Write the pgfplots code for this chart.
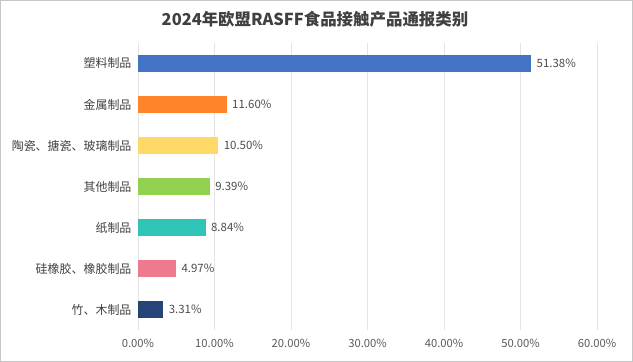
\documentclass[border=0pt]{standalone}
\usepackage{fontspec}
\setmainfont{Noto Sans CJK SC}
\usepackage{pgfplots}
\pgfplotsset{compat=1.18}
\definecolor{c1}{HTML}{4472C4}
\definecolor{c2}{HTML}{FF842A}
\definecolor{c3}{HTML}{FFD966}
\definecolor{c4}{HTML}{92D050}
\definecolor{c5}{HTML}{2EC4B6}
\definecolor{c6}{HTML}{EE7A8E}
\definecolor{c7}{HTML}{264478}
\definecolor{txt}{HTML}{595959}
\definecolor{grd}{HTML}{E4E4E4}
\begin{document}
\begin{tikzpicture}[x=1bp,y=1bp]
\draw[draw=gray!45,line width=0.8bp] (0.5,0.5) rectangle (632.5,361.5);
\node[font=\fontsize{16.5}{18}\selectfont\bfseries,text=black!75] at (315,343) {2024年欧盟RASFF食品接触产品通报类别};
\begin{axis}[
  at={(138bp,32bp)}, anchor=south west,
  scale only axis, width=459bp, height=287bp,
  xbar, bar width=17bp, bar shift=0pt,
  xmin=0, xmax=60, ymin=-0.5, ymax=6.5, y dir=reverse,
  axis line style={draw=none},
  xtick={0,10,...,60},
  xmajorgrids, grid style={grd, line width=0.8bp},
  major tick length=0pt,
  ytick={0,...,6},
  yticklabels={塑料制品,金属制品,{陶瓷、搪瓷、玻璃制品},其他制品,纸制品,{硅橡胶、橡胶制品},{竹、木制品}},
  xticklabel={\pgfmathprintnumber[fixed,zerofill,precision=2]{\tick}\%},
  /pgf/number format/assume math mode=true,
  xticklabel style={font=\fontsize{11.3}{13}\selectfont, text=txt, yshift=-6bp},
  yticklabel style={font=\fontsize{12}{14}\selectfont, text=black!75, xshift=-3bp},
  nodes near coords={\pgfmathprintnumber[fixed,zerofill,precision=2]{\pgfplotspointmeta}\%},
  point meta=x,
  nodes near coords style={font=\fontsize{11.5}{13}\selectfont, text=black!70, anchor=west, xshift=2bp},
  every axis plot/.append style={draw=none},
]
\addplot[fill=c1] coordinates {(51.38,0)};
\addplot[fill=c2] coordinates {(11.60,1)};
\addplot[fill=c3] coordinates {(10.50,2)};
\addplot[fill=c4] coordinates {(9.39,3)};
\addplot[fill=c5] coordinates {(8.84,4)};
\addplot[fill=c6] coordinates {(4.97,5)};
\addplot[fill=c7] coordinates {(3.31,6)};
\end{axis}
\end{tikzpicture}
\end{document}
